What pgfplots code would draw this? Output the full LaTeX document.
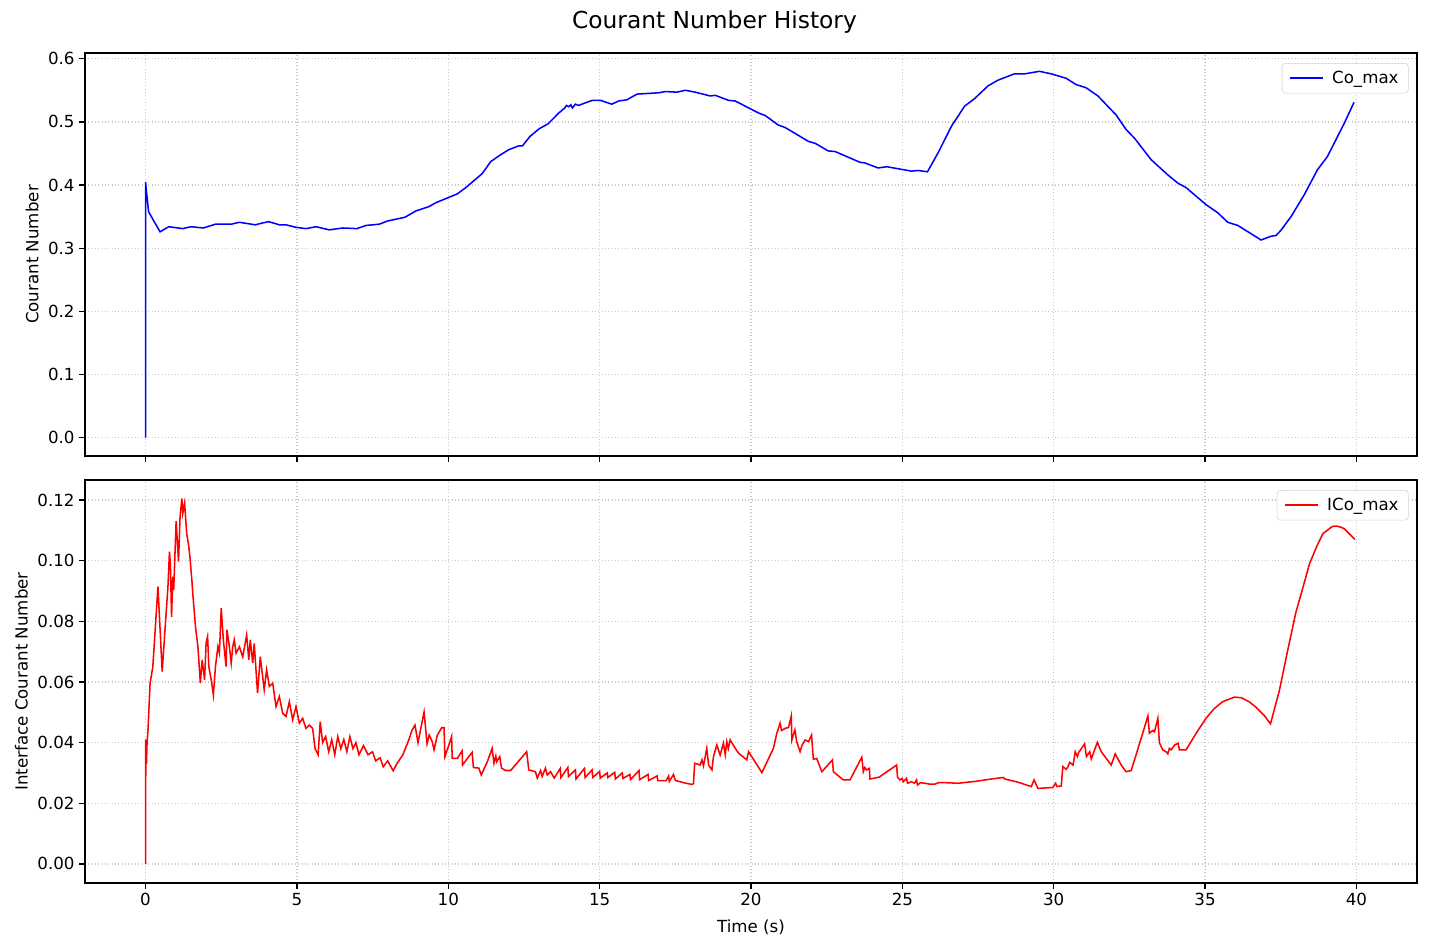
\documentclass[border=0pt]{standalone}
\usepackage{pgfplots}
\pgfplotsset{compat=1.18}
\usepackage{fontspec}
\setmainfont{DejaVu Sans}
\definecolor{gridc}{RGB}{200,200,200}
\pgfplotsset{
  myax/.style={
    scale only axis, width=959.04pt, height=290.16pt,
    xmin=-2, xmax=42,
    xtick={0,5,...,40},
    tick pos=left, tick align=outside,
    major tick length=4pt,
    every tick/.style={black, line width=0.96pt},
    axis line style={line width=0.96pt},
    grid=major,
    grid style={gridc, dotted, line width=0.96pt},
    tick label style={font=\fontsize{12}{14}\selectfont},
    label style={font=\fontsize{12}{14}\selectfont},
    xlabel style={yshift=-3pt},
    /pgf/number format/assume math mode=true,
    legend style={at={(0.9937,0.975)}, anchor=north east, draw=gray!35, rounded corners=2.5pt,
      font=\fontsize{12}{14}\selectfont, inner xsep=5pt, inner ysep=3.5pt, row sep=0pt,
      column sep=4pt},
    legend cell align=left,
    legend image code/.code={\draw[#1, line width=1.1pt] (0pt,0pt) -- (24pt,0pt);},
  }
}
\begin{document}
\begin{tikzpicture}
\useasboundingbox (0,0) rectangle (1028.88pt,-683.28pt);
\node[font=\fontsize{16.8}{19}\selectfont] at (514.44pt,-15.84pt) {Courant Number History};
\begin{axis}[myax, at={(61.2pt,-38.16pt)}, anchor=north west,
  ymin=-0.029, ymax=0.609,
  ytick={0,0.1,...,0.6},
  xticklabels={},
  yticklabel style={/pgf/number format/.cd, fixed, fixed zerofill, precision=1},
  ylabel={Courant Number},
]
\addplot[blue, line width=1.1pt] coordinates {
(0,0)(0.0,0.405)(0.03,0.39)(0.1,0.358)(0.25,0.345)(0.48,0.326)(0.77,0.334)(1.23,0.331)(1.5,0.334)(1.91,0.332)(2.31,0.338)(2.83,0.338)(3.1,0.341)(3.63,0.337)(3.87,0.340)(4.07,0.342)(4.42,0.337)(4.64,0.337)(4.97,0.333)(5.3,0.331)(5.63,0.334)(6.07,0.329)(6.51,0.332)(6.98,0.331)(7.28,0.336)(7.72,0.338)(7.99,0.343)(8.57,0.349)(8.93,0.359)(9.37,0.366)(9.59,0.372)(10.3,0.386)(10.58,0.396)(11.12,0.418)(11.4,0.437)(11.7,0.447)(12.0,0.456)(12.33,0.462)(12.45,0.462)(12.7,0.477)(13.0,0.489)(13.3,0.497)(13.65,0.514)(13.85,0.522)(13.9,0.526)(13.98,0.524)(14.05,0.527)(14.1,0.522)(14.2,0.528)(14.3,0.526)(14.75,0.534)(15.03,0.534)(15.4,0.528)(15.63,0.533)(15.9,0.535)(16.24,0.544)(16.95,0.546)(17.17,0.548)(17.55,0.547)(17.83,0.550)(18.16,0.547)(18.65,0.541)(18.82,0.542)(19.26,0.534)(19.48,0.533)(20.25,0.514)(20.47,0.510)(20.9,0.495)(21.13,0.491)(21.9,0.469)(22.12,0.466)(22.55,0.454)(22.78,0.453)(23.6,0.436)(23.76,0.435)(24.2,0.427)(24.48,0.429)(25.3,0.422)(25.52,0.423)(25.83,0.421)(26.18,0.451)(26.62,0.493)(27.06,0.525)(27.39,0.537)(27.83,0.557)(28.16,0.566)(28.7,0.576)(29.04,0.576)(29.53,0.580)(29.92,0.576)(30.41,0.569)(30.74,0.559)(31.07,0.554)(31.46,0.541)(32.06,0.511)(32.39,0.488)(32.67,0.474)(33.22,0.440)(33.77,0.416)(34.1,0.403)(34.37,0.396)(35.03,0.369)(35.42,0.356)(35.75,0.341)(36.08,0.336)(36.85,0.313)(37.18,0.319)(37.34,0.320)(37.5,0.328)(37.84,0.350)(38.28,0.385)(38.71,0.424)(39.04,0.445)(39.6,0.498)(39.92,0.531)
};
\addlegendentry{Co\_max}
\end{axis}
\begin{axis}[myax, at={(61.2pt,-345.6pt)}, anchor=north west,
  ymin=-0.0063, ymax=0.1266,
  ytick={0,0.02,...,0.12},
  yticklabel style={/pgf/number format/.cd, fixed, fixed zerofill, precision=2},
  ylabel={Interface Courant Number},
  xlabel={Time (s)},
]
\addplot[red, line width=1.1pt] coordinates {
(0,0)(0.0,0.041)(0.01,0.029)(0.02,0.038)(0.03,0.033)(0.05,0.040)(0.08,0.044)(0.15,0.0596)(0.24,0.065)(0.41,0.0914)(0.55,0.0634)(0.68,0.0827)(0.74,0.0914)(0.79,0.103)(0.82,0.099)(0.86,0.0815)(0.9,0.0947)(0.93,0.0903)(1.01,0.113)(1.09,0.0997)(1.14,0.1145)(1.2,0.1205)(1.23,0.1156)(1.29,0.119)(1.36,0.109)(1.43,0.1046)(1.47,0.1008)(1.53,0.0936)(1.56,0.0892)(1.65,0.0782)(1.73,0.0716)(1.81,0.0596)(1.87,0.0673)(1.95,0.0607)(2.0,0.0728)(2.05,0.075)(2.09,0.0651)(2.17,0.0607)(2.24,0.0557)(2.31,0.0651)(2.39,0.0716)(2.44,0.0695)(2.5,0.0843)(2.57,0.0739)(2.66,0.0651)(2.69,0.0772)(2.77,0.0716)(2.83,0.0662)(2.88,0.0716)(2.93,0.0739)(2.99,0.0695)(3.1,0.0716)(3.21,0.0683)(3.34,0.0755)(3.41,0.0673)(3.46,0.0739)(3.54,0.0662)(3.59,0.0727)(3.70,0.0563)(3.79,0.0683)(3.92,0.0574)(4.0,0.064)(4.09,0.0585)(4.2,0.0596)(4.31,0.0519)(4.42,0.0552)(4.53,0.0497)(4.64,0.0486)(4.75,0.0535)(4.86,0.0475)(4.97,0.0519)(5.08,0.0464)(5.19,0.048)(5.30,0.0447)(5.41,0.0458)(5.52,0.0447)(5.6,0.038)(5.7,0.036)(5.77,0.0469)(5.85,0.040)(5.95,0.042)(6.05,0.037)(6.15,0.041)(6.25,0.036)(6.35,0.042)(6.45,0.038)(6.55,0.041)(6.65,0.037)(6.75,0.042)(6.85,0.038)(6.95,0.040)(7.05,0.036)(7.2,0.039)(7.35,0.036)(7.5,0.037)(7.6,0.034)(7.75,0.035)(7.85,0.032)(8.0,0.034)(8.18,0.0307)(8.3,0.033)(8.5,0.036)(8.7,0.041)(8.8,0.044)(8.9,0.0458)(9.0,0.040)(9.1,0.045)(9.2,0.0501)(9.3,0.0396)(9.37,0.0425)(9.47,0.0403)(9.53,0.0376)(9.64,0.0425)(9.78,0.0449)(9.86,0.0449)(9.89,0.0354)(10.02,0.0392)(10.11,0.042)(10.13,0.0348)(10.3,0.0348)(10.46,0.0373)(10.47,0.0326)(10.63,0.0348)(10.79,0.0368)(10.83,0.0318)(11.01,0.0316)(11.09,0.0293)(11.29,0.0337)(11.45,0.0381)(11.51,0.0332)(11.57,0.0356)(11.6,0.0337)(11.7,0.0354)(11.76,0.0316)(11.89,0.0308)(12.06,0.0308)(12.59,0.037)(12.66,0.031)(12.88,0.0304)(12.94,0.0283)(13.05,0.0308)(13.1,0.0288)(13.21,0.0316)(13.27,0.0293)(13.38,0.0304)
(13.5,0.0283)(13.7,0.0315)(13.72,0.0285)(13.95,0.0318)(13.97,0.0288)(14.2,0.031)(14.22,0.028)(14.5,0.0315)(14.52,0.0285)(14.75,0.031)(14.77,0.0285)(15.0,0.0305)(15.02,0.0283)(15.25,0.030)(15.27,0.0285)(15.5,0.0302)(15.52,0.028)(15.75,0.030)(15.77,0.0282)(16.0,0.0295)(16.02,0.0278)(16.3,0.0308)(16.32,0.0278)(16.6,0.0295)(16.62,0.0275)(16.9,0.029)(16.92,0.0275)(17.2,0.0275)(17.28,0.029)(17.3,0.0272)(17.44,0.0295)(17.5,0.0275)(17.7,0.027)(17.85,0.0266)(18.05,0.0262)(18.1,0.0265)(18.14,0.0332)(18.32,0.0326)(18.38,0.0343)(18.43,0.0323)(18.54,0.0381)(18.6,0.0326)(18.71,0.031)(18.76,0.0354)(18.87,0.0392)(18.98,0.0359)(19.09,0.0398)(19.15,0.036)(19.2,0.0403)(19.25,0.038)(19.31,0.0409)(19.48,0.0381)(19.59,0.0365)(19.86,0.0343)(19.92,0.037)(20.36,0.0301)(20.74,0.0381)(20.85,0.043)(20.96,0.0464)(21.01,0.044)(21.13,0.0447)(21.24,0.045)(21.33,0.0488)(21.35,0.0409)(21.45,0.0442)(21.51,0.0403)(21.62,0.037)(21.68,0.039)(21.79,0.0409)(21.9,0.0403)(22.0,0.0425)(22.06,0.0345)(22.17,0.0348)(22.34,0.0304)(22.69,0.0343)(22.72,0.0304)(23.05,0.0277)(23.27,0.0277)(23.66,0.0352)(23.71,0.0304)(23.76,0.0318)(23.82,0.031)(23.91,0.0315)(23.93,0.028)(24.23,0.0286)(24.81,0.0326)(24.84,0.0286)(24.92,0.0277)(24.99,0.0282)(25.03,0.0271)(25.14,0.0282)(25.17,0.0266)(25.3,0.0271)(25.4,0.0266)(25.47,0.0277)(25.5,0.026)(25.6,0.0268)(25.74,0.0266)(25.9,0.0263)(26.07,0.0263)(26.2,0.0268)(26.4,0.0268)(26.84,0.0266)(27.4,0.0272)(27.94,0.028)(28.33,0.0285)(28.38,0.028)(28.8,0.027)(29.26,0.0255)(29.35,0.0277)(29.48,0.0249)(29.97,0.0252)(30.06,0.0266)(30.11,0.0255)(30.25,0.0257)(30.3,0.0321)(30.41,0.0312)(30.47,0.0321)(30.53,0.0335)(30.64,0.0326)(30.71,0.037)(30.78,0.0354)(30.82,0.0367)(31.02,0.0396)(31.08,0.0354)(31.19,0.037)(31.24,0.0346)(31.35,0.0376)(31.44,0.0401)(31.57,0.037)(31.9,0.0326)(32.03,0.0363)(32.23,0.0326)(32.39,0.0304)(32.56,0.0308)(32.94,0.0431)(33.11,0.0488)(33.16,0.0431)(33.27,0.044)(33.33,0.0436)(33.44,0.048)(33.49,0.040)(33.6,0.0376)(33.71,0.037)(33.77,0.0363)(33.82,0.0381)(33.88,0.0376)(33.99,0.0392)(34.11,0.0398)(34.15,0.0376)(34.37,0.0376)(34.7,0.043)(35.03,0.048)(35.3,0.0512)(35.58,0.0535)(35.97,0.055)(36.2,0.0548)(36.45,0.0535)(36.68,0.0517)(36.95,0.049)(37.16,0.0462)(37.45,0.057)(37.72,0.070)(38.0,0.083)(38.2,0.090)(38.45,0.099)(38.7,0.105)(38.9,0.109)(39.04,0.110)(39.2,0.1113)(39.35,0.1114)(39.5,0.111)(39.6,0.1105)(39.7,0.1095)(39.8,0.1085)(39.95,0.107)
};
\addlegendentry{ICo\_max}
\end{axis}
\end{tikzpicture}
\end{document}
